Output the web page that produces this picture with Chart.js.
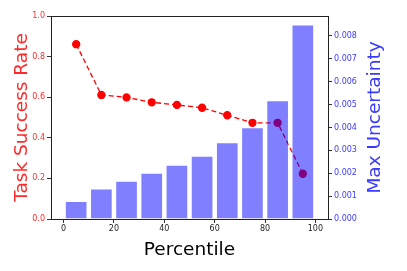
<!DOCTYPE html>
<html>
<head>
<meta charset="utf-8">
<script src="https://cdn.jsdelivr.net/npm/chart.js@4/dist/chart.umd.min.js"></script>
<style>
  html, body { margin: 0; padding: 0; background: #fff; }
  #wrap { width: 407px; height: 271px; }
</style>
</head>
<body>
<div id="wrap"><canvas id="myChart" width="407" height="271"></canvas></div>
<script>
const percentiles = [5, 15, 25, 35, 45, 55, 65, 75, 85, 95]
const successRate = [0.861, 0.611, 0.599, 0.575, 0.562, 0.548, 0.511, 0.474, 0.474, 0.223]
const maxUncertainty = [0.00079, 0.00133, 0.00167, 0.00202, 0.00237, 0.00276, 0.00335, 0.00401, 0.00519, 0.0085]
const xTicks = [0, 20, 40, 60, 80, 100]
const rightTicks = [0, 0.001, 0.002, 0.003, 0.004, 0.005, 0.006, 0.007, 0.008]

const red = '#ff2a2a'
const blue = '#3a3aff'
const font = 'DejaVu Sans'

// axes frame plus the right-hand title, which matplotlib reads bottom to top
const frame = {
  id: 'frame',
  afterDraw(chart) {
    const {ctx, chartArea: a} = chart
    ctx.save()
    ctx.strokeStyle = '#222'
    ctx.lineWidth = 1
    ctx.strokeRect(a.left + 0.5, a.top + 0.5, a.right - a.left, a.bottom - a.top)
    ctx.translate(375, (a.top + a.bottom) / 2)
    ctx.rotate(-Math.PI / 2)
    ctx.fillStyle = blue
    ctx.font = `18.5px "${font}"`
    ctx.textAlign = 'center'
    ctx.textBaseline = 'middle'
    ctx.fillText('Max Uncertainty', 0, 0)
    ctx.restore()
  },
}

new Chart('myChart', {
  data: {
    datasets: [
      {
        type: 'line',
        data: percentiles.map((x, i) => ({x, y: successRate[i]})),
        yAxisID: 'y',
        borderColor: 'red',
        backgroundColor: 'red',
        borderWidth: 1.3,
        borderDash: [5, 3],
        pointRadius: 3.5,
        pointHoverRadius: 3.5,
        fill: false,
        order: 2,
      },
      {
        type: 'bar',
        data: percentiles.map((x, i) => ({x, y: maxUncertainty[i]})),
        yAxisID: 'y1',
        backgroundColor: 'rgba(0,0,255,0.5)',
        borderColor: 'rgba(255,255,255,0.45)',
        borderWidth: 1,
        barPercentage: 0.9,
        categoryPercentage: 1,
        order: 1,
      },
    ],
  },
  options: {
    responsive: false,
    animation: false,
    devicePixelRatio: 1,
    layout: {padding: {top: 16, left: 0, right: 0, bottom: 0}},
    plugins: {legend: {display: false}, tooltip: {enabled: false}},
    scales: {
      x: {
        type: 'linear',
        offset: false,
        min: -5,
        max: 105,
        afterFit: s => { s.height = 52 },
        afterBuildTicks: s => { s.ticks = xTicks.map(v => ({value: v})) },
        grid: {display: true, offset: false, drawOnChartArea: false, tickLength: 4, color: '#333'},
        border: {display: false},
        ticks: {color: '#222', font: {family: font, size: 8}, padding: 1, maxRotation: 0},
        title: {display: true, text: 'Percentile', color: '#000', font: {family: font, size: 18.5}, padding: {top: 0, bottom: 10}},
      },
      y: {
        position: 'left',
        min: 0,
        max: 1,
        afterFit: s => { s.width = 51 },
        grid: {display: true, drawOnChartArea: false, tickLength: 4, color: '#333'},
        border: {display: false},
        ticks: {stepSize: 0.2, color: red, font: {family: font, size: 8}, padding: 2, callback: v => v.toFixed(1)},
        title: {display: true, text: 'Task Success Rate', color: red, font: {family: font, size: 18.5}, padding: {top: 11, bottom: 0}},
      },
      y1: {
        position: 'right',
        min: 0,
        max: 0.00887,
        afterFit: s => { s.width = 79 },
        grid: {display: true, drawOnChartArea: false, tickLength: 4, color: '#333'},
        border: {display: false},
        afterBuildTicks: s => { s.ticks = rightTicks.map(v => ({value: v})) },
        ticks: {color: blue, font: {family: font, size: 8}, padding: 2, callback: v => v.toFixed(3)},
        title: {display: false},
      },
    },
  },
  plugins: [frame],
})
</script>
</body>
</html>
